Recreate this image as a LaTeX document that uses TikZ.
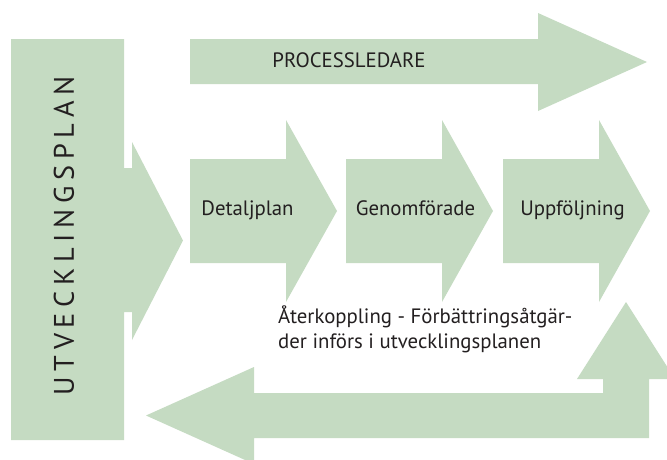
\documentclass[tikz,border=0pt]{standalone}
\usepackage{fontspec}
\setsansfont{PT Sans}
\usepackage{xcolor}
\usetikzlibrary{positioning}

\definecolor{planGreen}{HTML}{C5DBC2}
\definecolor{planText}{HTML}{231F20}

\begin{document}
\begin{tikzpicture}[
  x=1pt, y=-1pt,
  greenbox/.style={fill=planGreen, draw=none},
  steplabel/.style={font=\sffamily\fontsize{20.8}{25}\selectfont, text=planText, inner sep=0pt, anchor=base},
  notelabel/.style={steplabel, anchor=base west, align=left},
  planlabel/.style={font=\sffamily\fontsize{28.3}{32}\selectfont\addfontfeature{LetterSpace=20},
    text=planText, inner sep=0pt, rotate=90},
]
\useasboundingbox (0,0) rectangle (667,459);
\clip (0,0) rectangle (667,459);

% Utvecklingsplan block with its arrow
\fill[greenbox] (11,39) -- (124,39) -- (124,168) -- (132,168) -- (132,142) -- (183,240.5)
  -- (132,340) -- (132,312) -- (124,312) -- (124,440) -- (11,440) -- cycle;
\node[planlabel] (plan) at (64,236) {UTVECKLINGSPLAN};

% Processledare on top
\fill[greenbox] (190,39) -- (538,39) -- (538,13) -- (647,62) -- (538,111) -- (538,84) -- (190,84) -- cycle;
\node[steplabel] (proc) at (349,67.7) {PROCESSLEDARE};

% Steps in the middle
\fill[greenbox] (190,159) -- (286,159) -- (286,120) -- (337,211) -- (286,302) -- (286,263) -- (190,263) -- cycle;
\fill[greenbox] (346,159) -- (442,159) -- (442,120) -- (493,211) -- (442,302) -- (442,263) -- (346,263) -- cycle;
\fill[greenbox] (503,159) -- (599,159) -- (599,120) -- (650,211) -- (599,302) -- (599,263) -- (503,263) -- cycle;
\node[steplabel] (detalj) at (247.5,215) {Detaljplan};
\node[steplabel] (genom) at (415.5,215) {Genomförade};
\node[steplabel] (uppf) at (572.5,215) {Uppföljning};

% Feedback loop at the bottom
\fill[greenbox] (146,415.5) -- (254,367) -- (254,393) -- (603,393) -- (603,379) -- (577,379) -- (626,302)
  -- (675,379) -- (649,379) -- (649,438) -- (254,438) -- (254,464) -- cycle;
\node[notelabel] (feedback) at (278,348) {Återkoppling - Förbättringsåtgär-\\der införs i utvecklingsplanen};

\end{tikzpicture}
\end{document}
